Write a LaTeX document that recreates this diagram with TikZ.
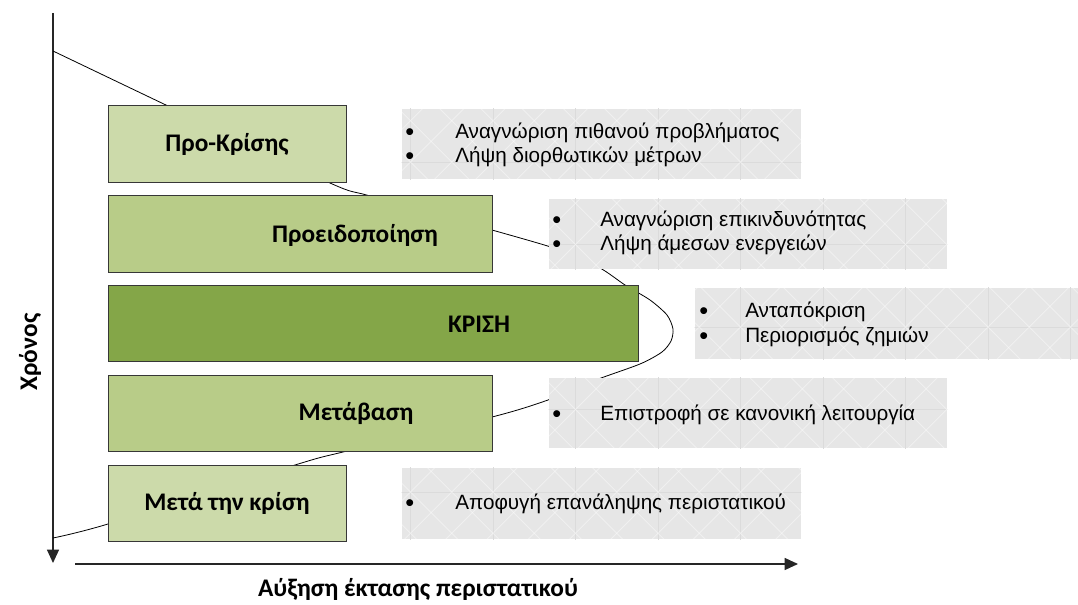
\documentclass[tikz,border=0pt]{standalone}
\usepackage{fontspec}
\setmainfont{Carlito}
\newfontfamily\notefont{Liberation Sans}
\usetikzlibrary{arrows.meta}

\definecolor{phaseLight}{RGB}{204,218,170}
\definecolor{phaseMid}{RGB}{184,204,136}
\definecolor{phaseDark}{RGB}{132,166,72}
\definecolor{noteFill}{RGB}{230,230,230}
\definecolor{noteGrid}{RGB}{219,219,219}
\definecolor{edgeGray}{RGB}{55,55,55}

% faint lattice texture laid over a note box
\newcommand\lattice[1]{%
  \begin{scope}
    \clip (#1.south west) rectangle (#1.north east);
    \foreach \k in {0,...,14}
      \draw[noteGrid, line width=0.6pt] ({-2+82.5*\k},0) -- ({-2+82.5*\k},605);
    \foreach \k in {0,...,8}
      \draw[noteGrid, line width=0.6pt] (0,{-3+82.5*\k}) -- (1078,{-3+82.5*\k});
    \foreach \k in {0,...,42}
      \draw[white, opacity=.4, line width=0.6pt] ({-5+41.25*\k},0) -- ({-5+41.25*\k-700},700);
    \foreach \k in {-16,...,27}
      \draw[white, opacity=.4, line width=0.6pt] ({1+41.25*\k},0) -- ({1+41.25*\k+700},700);
  \end{scope}}

\begin{document}
\begin{tikzpicture}[x=0.75pt, y=-0.75pt,
  phase/.style={draw=edgeGray, line width=0.75pt, inner sep=0pt, rectangle},
  note/.style={fill=noteFill, draw=none, inner sep=0pt, rectangle},
  phaselabel/.style={font=\bfseries\fontsize{19}{22}\selectfont, anchor=base, inner sep=0pt},
  axislabel/.style={font=\bfseries\fontsize{19}{22}\selectfont, inner sep=0pt},
  bullet/.style={font=\notefont\fontsize{19}{20}\selectfont, anchor=base west, inner sep=0pt},
  notetext/.style={font=\notefont\fontsize{15.5}{18}\selectfont, anchor=base west, inner sep=0pt},
  axis/.style={draw=black!85, line width=0.9pt, -{Triangle[length=10pt, width=9pt]}},
  curveline/.style={draw=black, line width=0.6pt}]

\useasboundingbox (0,0) rectangle (1078,605);

% axes
\coordinate (ytop) at (53,13);
\coordinate (ybot) at (53,563);
\coordinate (xleft) at (75,564);
\coordinate (xright) at (798,564);
\draw[axis] (ytop) -- (ybot);
\draw[axis] (xleft) -- (xright);

\node[axislabel, anchor=base] (xlab) at (418,596) {Αύξηση έκτασης περιστατικού};
\node[axislabel, rotate=90] (ylab) at (30,352) {Χρόνος};

% incident extent over time
\draw[curveline] plot[smooth, tension=0.45] coordinates {
  (53,51) (168,106) (330,183) (370,196) (492,230) (560,250) (600,268)
  (625,285) (650,300) (667,315) (673,329) (671,341) (662,352) (640,364)
  (593,381) (548,400) (492,417) (343,452) (295,465) (108,524) (53,538)};

% phase boxes
\node[phase, fill=phaseLight, minimum width=178.5pt, minimum height=57.75pt] (pre)  at (227,144.5) {};
\node[phase, fill=phaseMid,   minimum width=288pt,   minimum height=57.75pt] (warn) at (300,234.5) {};
\node[phase, fill=phaseDark,  minimum width=397.5pt, minimum height=57pt]    (crisis) at (373,324) {};
\node[phase, fill=phaseMid,   minimum width=288pt,   minimum height=57pt]    (trans) at (300,414) {};
\node[phase, fill=phaseLight, minimum width=178.5pt, minimum height=57pt]    (post) at (227,504) {};

\node[phaselabel] (preT)    at (227,152) {Προ-Κρίσης};
\node[phaselabel] (warnT)   at (355,243) {Προειδοποίηση};
\node[phaselabel] (crisisT) at (479,333) {ΚΡΙΣΗ};
\node[phaselabel] (transT)  at (356,421) {Μετάβαση};
\node[phaselabel] (postT)   at (227,511) {Μετά την κρίση};

% note boxes
\node[note, minimum width=299.25pt, minimum height=52.5pt]  (nA) at (601.5,144) {};
\node[note, minimum width=298.5pt,  minimum height=52.5pt]  (nB) at (748,234) {};
\node[note, minimum width=287.25pt, minimum height=53.25pt] (nC) at (886.5,323.5) {};
\node[note, minimum width=298.5pt,  minimum height=52.5pt]  (nD) at (748,413) {};
\node[note, minimum width=299.25pt, minimum height=53.25pt] (nE) at (601.5,503.5) {};
\lattice{nA}\lattice{nB}\lattice{nC}\lattice{nD}\lattice{nE}

\node[bullet] (bA1) at (405,141) {•};
\node[notetext] (tA1) at (455,139) {Αναγνώριση πιθανού προβλήματος};
\node[bullet] (bA2) at (405,165) {•};
\node[notetext] (tA2) at (455,163) {Λήψη διορθωτικών μέτρων};

\node[bullet] (bB1) at (552,229) {•};
\node[notetext] (tB1) at (600,227) {Αναγνώριση επικινδυνότητας};
\node[bullet] (bB2) at (552,253) {•};
\node[notetext] (tB2) at (600,251) {Λήψη άμεσων ενεργειών};

\node[bullet] (bC1) at (699,320) {•};
\node[notetext] (tC1) at (745,318) {Ανταπόκριση};
\node[bullet] (bC2) at (699,345) {•};
\node[notetext] (tC2) at (745,343) {Περιορισμός ζημιών};

\node[bullet] (bD1) at (552,423) {•};
\node[notetext] (tD1) at (600,421) {Επιστροφή σε κανονική λειτουργία};

\node[bullet] (bE1) at (405,512) {•};
\node[notetext] (tE1) at (455,510) {Αποφυγή επανάληψης περιστατικού};

\end{tikzpicture}
\end{document}
